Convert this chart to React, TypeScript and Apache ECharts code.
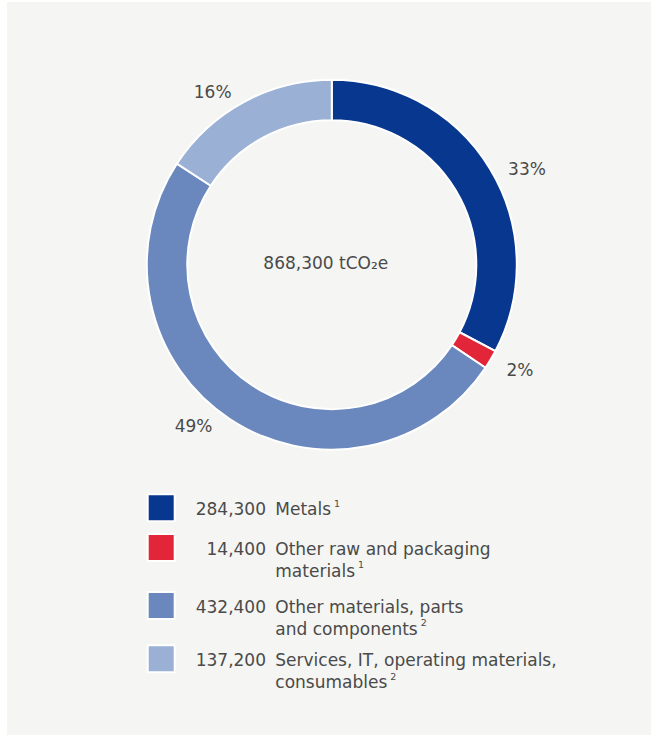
import React, { useEffect, useRef } from "react";
import * as echarts from "echarts";

const categories = [
  "Metals",
  "Other raw and packaging materials",
  "Other materials, parts and components",
  "Services, IT, operating materials, consumables",
];
const values = [284300, 14400, 432400, 137200];
const valueLabels = ["284,300", "14,400", "432,400", "137,200"];
const pctLabels = ["33%", "2%", "49%", "16%"];
const legendLines = [
  ["Metals"],
  ["Other raw and packaging", "materials"],
  ["Other materials, parts", "and components"],
  ["Services, IT, operating materials,", "consumables"],
];
const footnotes = ["1", "1", "2", "2"];
const totalLabel = "868,300 tCO₂e";
const colors = ["#08378f", "#e32539", "#6a88be", "#9bb0d5"];

const FONT = "DejaVu Sans";
const TEXT = "#4a4a4a";
const labelShift = [
  [0, 7],
  [-2, 3],
  [-4, -6],
  [0, 3],
];

function measure(text: string, size: number): number {
  const c = document.createElement("canvas").getContext("2d");
  if (!c) return text.length * size * 0.6;
  c.font = `${size}px "${FONT}"`;
  return c.measureText(text).width;
}

export default function App() {
  const ref = useRef<HTMLDivElement>(null);
  useEffect(() => {
    if (!ref.current) return;
    const chart = echarts.init(ref.current, null, { renderer: "svg" });
    const iconLeft = 139.7;
    const iconTops = [491.3, 532, 590, 643.3];
    const valueBox = 86.3;
    const base = { fontSize: 17, fontFamily: FONT, color: TEXT, lineHeight: 21.5 };
    const legends = categories.map((name, i) => {
      const lines = legendLines[i];
      const multi = lines.length > 1;
      const padL = Math.max(0, valueBox - measure(valueLabels[i], 17));
      const rich = {
        v: { ...base, padding: [0, 0, 0, padL] },
        n: { ...base, padding: [0, 0, 0, 9.3] },
        p: { ...base, width: valueBox },
        s: { fontSize: 9.5, fontFamily: FONT, color: TEXT, verticalAlign: "top", padding: [0, 0, 0, 3], lineHeight: 12 },
      };
      return {
        orient: "vertical",
        left: iconLeft,
        top: multi ? iconTops[i] - 20.25 : iconTops[i],
        padding: 0,
        itemWidth: 27,
        itemHeight: 27,
        icon: "rect",
        selectedMode: false,
        data: [{ name, itemStyle: { color: colors[i] } }],
        formatter: () => {
          if (!multi) return `{v|${valueLabels[i]}}{n|${lines[0]}}{s|${footnotes[i]}}`;
          return `{v|${valueLabels[i]}}{n|${lines[0]}}\n{p| }{n|${lines[1]}}{s|${footnotes[i]}}`;
        },
        textStyle: {
          ...base,
          padding: multi ? [24.5, 0, 0, 0] : [2, 0, 0, 0],
          rich,
        },
      };
    });
    chart.setOption({
      animation: false,
      backgroundColor: "#f5f5f3",
      color: colors,
      legend: legends,
      graphic: [
        {
          type: "text",
          x: 318.8,
          y: 261,
          style: {
            text: totalLabel,
            fontFamily: FONT,
            fontSize: 17,
            fill: TEXT,
            align: "center",
            verticalAlign: "middle",
          },
        },
      ],
      series: [
        {
          type: "pie",
          center: [324.8, 262.7],
          radius: [144.5, 185],
          startAngle: 90,
          clockwise: true,
          avoidLabelOverlap: false,
          itemStyle: { borderColor: "#ffffff", borderWidth: 2 },
          emphasis: { disabled: true },
          label: {
            show: true,
            position: "outside",
            formatter: (p: any) => pctLabels[p.dataIndex],
            fontFamily: FONT,
            fontSize: 17,
            color: TEXT,
          },
          labelLayout: (p: any) => ({ dx: labelShift[p.dataIndex][0], dy: labelShift[p.dataIndex][1] }),
          labelLine: { show: false, length: 15, length2: 0 },
          data: categories.map((name, i) => ({ name, value: values[i] })),
        },
      ],
    });
    return () => chart.dispose();
  }, []);
  return (
    <div
      ref={ref}
      style={{ position: "fixed", left: 7, top: 2, width: 644, height: 733 }}
    />
  );
}
